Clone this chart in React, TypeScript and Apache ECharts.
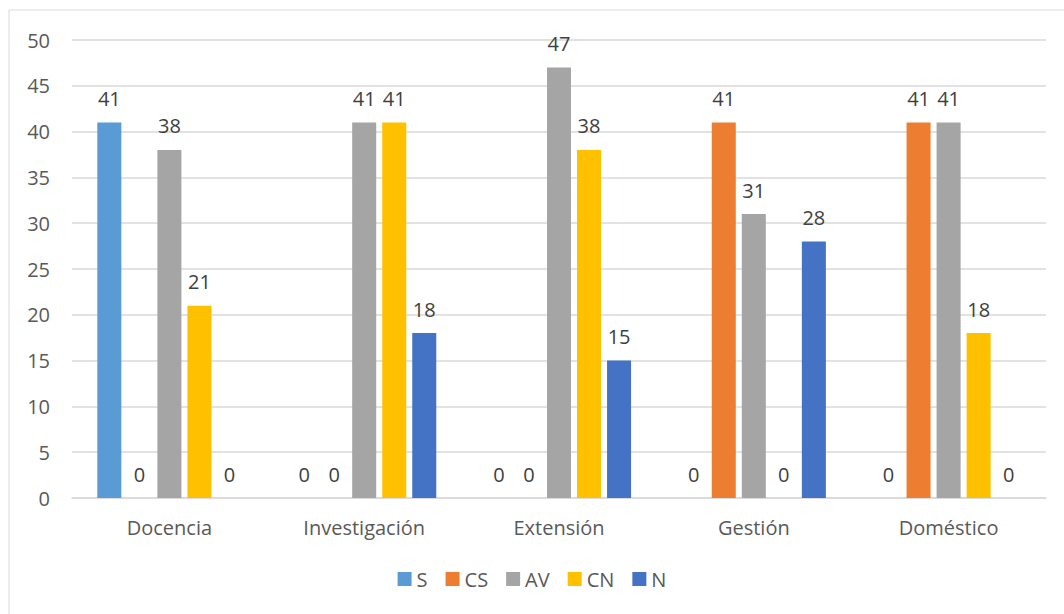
import React, { useEffect, useRef } from "react";
import * as echarts from "echarts";

const categories = ["Docencia", "Investigación", "Extensión", "Gestión", "Doméstico"];
const seriesNames = ["S", "CS", "AV", "CN", "N"];
const sValues = [41, 0, 0, 0, 0];
const csValues = [0, 0, 0, 41, 41];
const avValues = [38, 41, 47, 31, 41];
const cnValues = [21, 41, 38, 0, 18];
const nValues = [0, 18, 15, 28, 0];
const colors = ["#5B9BD5", "#ED7D31", "#A5A5A5", "#FFC000", "#4472C4"];
const yTicks = [0, 5, 10, 15, 20, 25, 30, 35, 40, 45, 50];

const FONT = "'Open Sans', sans-serif";

export default function App() {
  const ref = useRef<HTMLDivElement>(null);
  useEffect(() => {
    if (!ref.current) return;
    const chart = echarts.init(ref.current, undefined, { renderer: "svg" });
    const data = [sValues, csValues, avValues, cnValues, nValues];
    chart.setOption({
      animation: false,
      backgroundColor: "#ffffff",
      textStyle: { fontFamily: FONT },
      graphic: [
        {
          type: "rect",
          shape: { x: 9, y: 10, width: 1100, height: 700 },
          style: { fill: "none", stroke: "#d9d9d9", lineWidth: 1 },
          silent: true,
        },
      ],
      grid: { left: 72, right: 18, top: 40, bottom: 116, containLabel: false },
      legend: {
        data: seriesNames,
        bottom: 20,
        left: "center",
        icon: "rect",
        itemWidth: 14,
        itemHeight: 14,
        itemGap: 18,
        textStyle: { fontFamily: FONT, fontSize: 20, color: "#595959", padding: [0, 0, 0, 0] },
      },
      xAxis: {
        type: "category",
        data: categories,
        axisLine: { lineStyle: { color: "#d9d9d9", width: 1.5 } },
        axisTick: { show: false },
        axisLabel: { fontFamily: FONT, fontSize: 20, color: "#595959", margin: 19 },
      },
      yAxis: {
        type: "value",
        min: yTicks[0],
        max: yTicks[yTicks.length - 1],
        interval: 5,
        axisLine: { show: false },
        axisTick: { show: false },
        splitLine: { lineStyle: { color: "#d9d9d9", width: 1.5 } },
        axisLabel: { fontFamily: FONT, fontSize: 20, color: "#595959", margin: 22 },
      },
      series: seriesNames.map((name, i) => ({
        name,
        type: "bar",
        data: data[i],
        barGap: "25%",
        barCategoryGap: "26%",
        itemStyle: { color: colors[i] },
        label: {
          show: true,
          position: "top",
          distance: 14,
          fontFamily: FONT,
          fontSize: 20,
          color: "#404040",
        },
      })),
    });
    return () => chart.dispose();
  }, []);
  return (
    <div
      ref={ref}
      style={{ position: "absolute", left: 0, top: 0, width: 1064, height: 614 }}
    />
  );
}
